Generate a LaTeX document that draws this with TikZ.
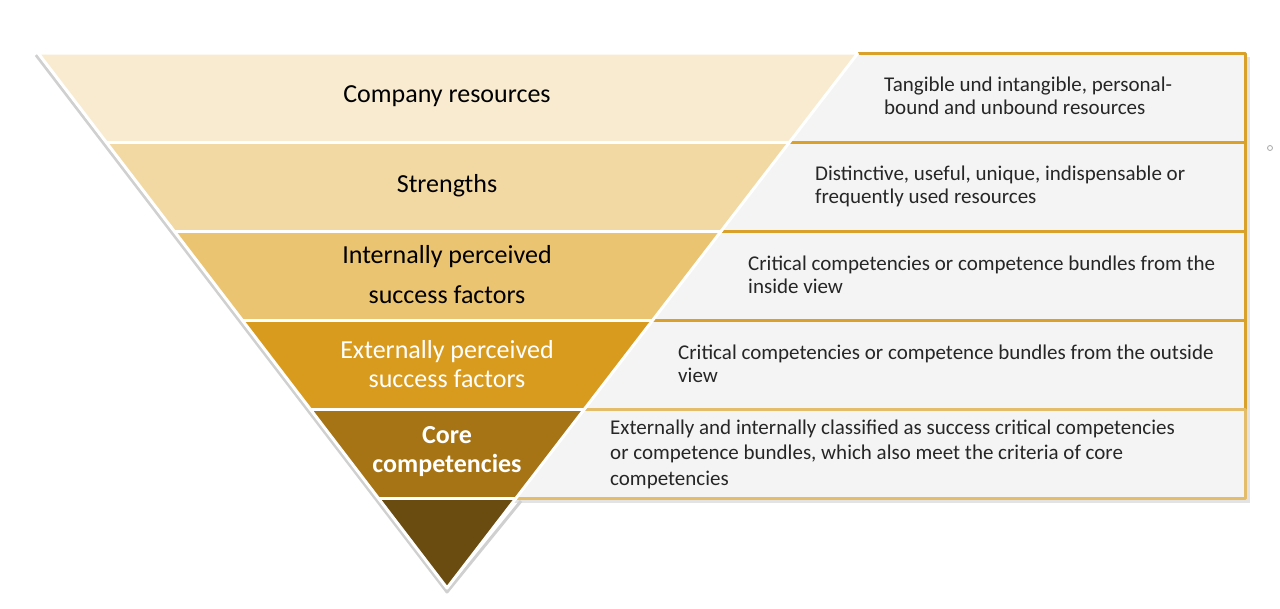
\documentclass[tikz,border=0pt]{standalone}
\usepackage{fontspec}
\setmainfont{Carlito}
\definecolor{bandA}{HTML}{F8EBD0}
\definecolor{bandB}{HTML}{F2D8A3}
\definecolor{bandC}{HTML}{EBC471}
\definecolor{bandD}{HTML}{D99B1E}
\definecolor{bandE}{HTML}{A67415}
\definecolor{bandF}{HTML}{6B4C10}
\definecolor{boxgray}{HTML}{F4F4F4}
\definecolor{goldline}{HTML}{D9A02A}
\definecolor{shadowgray}{HTML}{D0D0D0}
\tikzset{
  descbox/.style={draw=goldline, line width=3pt, fill=boxgray},
  title/.style={font=\fontsize{26}{40}\selectfont, align=center, inner sep=0pt},
  desc/.style={font=\fontsize{21}{23}\selectfont, align=left, anchor=west, inner sep=0pt, text=black!85}
}

\begin{document}
\begin{tikzpicture}[x=1pt, y=-1pt, line join=round]
    \useasboundingbox (0,0) rectangle (1280,608);
    % corners of the bands
    \coordinate (l0) at (38,53);  \coordinate (r0) at (858,53);
    \coordinate (l1) at (106,142); \coordinate (r1) at (790,142);
    \coordinate (l2) at (174,231); \coordinate (r2) at (722,231);
    \coordinate (l3) at (243,320); \coordinate (r3) at (653,320);
    \coordinate (l4) at (311,409); \coordinate (r4) at (585,409);
    \coordinate (l5) at (379,498); \coordinate (r5) at (517,498);
    \coordinate (tip) at (447,588);
    % shadows
    \fill[shadowgray!60] (452,57) rectangle (1250,503);
    \draw[shadowgray, line width=3pt] ([xshift=-2pt,yshift=-2pt]l0) -- ([yshift=-4pt]tip) -- ([xshift=4pt,yshift=-3pt]r5);
    % description boxes
    \draw[descbox] (450,53) rectangle (1245,142);
    \draw[descbox] (450,142) rectangle (1245,231);
    \draw[descbox] (450,231) rectangle (1245,320);
    \draw[descbox] (450,320) rectangle (1245,409);
    \draw[descbox, draw=goldline!70] (450,409) rectangle (1245,498);
    % bands of the triangle
    \fill[bandA] (l0) -- (r0) -- (r1) -- (l1) -- cycle;
    \fill[bandB] (l1) -- (r1) -- (r2) -- (l2) -- cycle;
    \fill[bandC] (l2) -- (r2) -- (r3) -- (l3) -- cycle;
    \fill[bandD] (l3) -- (r3) -- (r4) -- (l4) -- cycle;
    \fill[bandE] (l4) -- (r4) -- (r5) -- (l5) -- cycle;
    \fill[bandF] (l5) -- (r5) -- (tip) -- cycle;
    \draw[white, line width=3pt] (r0) -- (l0) -- (tip) -- (r0);
    \draw[white, line width=3pt] (l1) -- (r1) (l2) -- (r2) (l3) -- (r3) (l4) -- (r4) (l5) -- (r5);
    % labels
    \node[title] (res) at (447,96) {Company resources};
    \node[title] (str) at (447,186) {Strengths};
    \node[title] (ipf) at (447,275) {Internally perceived\\success factors};
    \node[title, white, font=\fontsize{26}{29}\selectfont] (epf) at (447,364) {Externally perceived\\success factors};
    \node[title, white, font=\fontsize{26}{29}\selectfont\bfseries] (core) at (447,452) {Core\\competencies};
    % descriptions
    \node[desc] (resd) at (884,96) {Tangible und intangible, personal-\\bound and unbound resources};
    \node[desc] (strd) at (815,186) {Distinctive, useful, unique, indispensable or\\frequently used resources};
    \node[desc] (ipfd) at (748,275) {Critical competencies or competence bundles from the\\inside view};
    \node[desc] (epfd) at (678,364) {Critical competencies or competence bundles from the outside\\view};
    \node[desc, font=\fontsize{21}{25.5}\selectfont] (cored) at (610,454) {Externally and internally classified as success critical competencies\\or competence bundles, which also meet the criteria of core\\competencies};
    \draw[gray!70, line width=0.8pt] (1270,148) circle (2.5pt);
\end{tikzpicture}
\end{document}
